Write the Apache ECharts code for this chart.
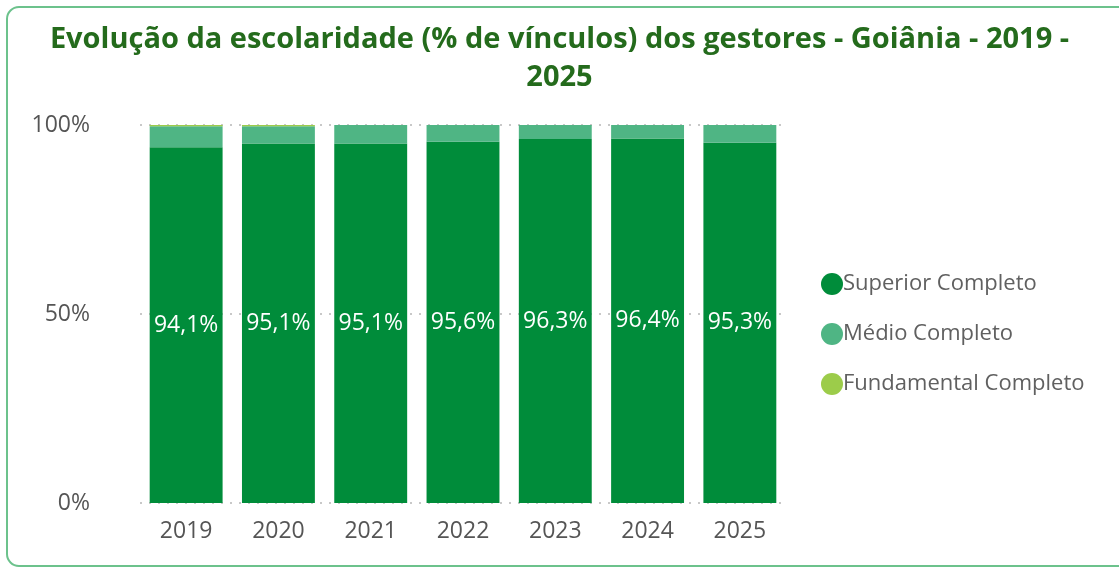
<!DOCTYPE html>
<html>
<head>
<meta charset="utf-8">
<script src="https://cdn.jsdelivr.net/npm/echarts@6/dist/echarts.min.js"></script>
<style>
html,body{margin:0;padding:0;background:#fff;}
#chart{width:1119px;height:568px;}
</style>
</head>
<body>
<div id="chart"></div>
<script>
const categories = ['2019','2020','2021','2022','2023','2024','2025'];
const superior = [94.1, 95.1, 95.1, 95.6, 96.3, 96.4, 95.3];
const medio = [5.6, 4.6, 4.9, 4.4, 3.7, 3.6, 4.7];
const fundamental = [0.3, 0.3, 0, 0, 0, 0, 0];
const yTicks = [0, 50, 100];

const chart = echarts.init(document.getElementById('chart'));
const font = '"Open Sans", sans-serif';
chart.setOption({
  animation: false,
  title: {
    text: 'Evolução da escolaridade (% de vínculos) dos gestores - Goiânia - 2019 -\n2025',
    left: 'center',
    top: 16,
    textStyle: { fontFamily: font, fontWeight: 'bold', fontSize: 29, color: '#246b1c', lineHeight: 38 }
  },
  graphic: [{
    type: 'rect',
    shape: { x: 7, y: 7, width: 1125, height: 559, r: 12 },
    style: { fill: 'none', stroke: '#6cc28c', lineWidth: 2 },
    silent: true, z: -1
  }],
  legend: {
    orient: 'vertical',
    left: 816,
    top: 268,
    itemGap: 28,
    icon: 'circle',
    itemWidth: 22,
    itemHeight: 22,
    textStyle: { fontFamily: font, fontSize: 22, color: '#606060', padding: [0,0,0,-5] },
    data: ['Superior Completo', 'Médio Completo', 'Fundamental Completo']
  },
  grid: { left: 140, right: 333, top: 125, bottom: 65 },
  xAxis: {
    type: 'category',
    data: categories,
    axisLine: { show: false },
    axisTick: { show: false },
    axisLabel: { fontFamily: font, fontSize: 23, color: '#555', margin: 17 }
  },
  yAxis: {
    type: 'value',
    min: yTicks[0], max: yTicks[2], interval: 50,
    axisLabel: { formatter: '{value}%', fontFamily: font, fontSize: 23, color: '#555', margin: 50 },
    splitLine: { lineStyle: { type: [2, 7], color: '#c8c8c8', width: 2 } },
    axisLine: { show: false }, axisTick: { show: false }
  },
  series: [
    {
      name: 'Superior Completo', type: 'bar', stack: 'a', data: superior,
      barCategoryGap: '21%',
      itemStyle: { color: '#008c3a' },
      label: { show: true, position: 'inside', formatter: p => p.value.toFixed(1).replace('.', ',') + '%',
        color: '#fff', fontFamily: font, fontSize: 23 }
    },
    { name: 'Médio Completo', type: 'bar', stack: 'a', data: medio, itemStyle: { color: '#4fb584' } },
    { name: 'Fundamental Completo', type: 'bar', stack: 'a', data: fundamental, itemStyle: { color: '#9ccc4a' } }
  ]
});
</script>
</body>
</html>
